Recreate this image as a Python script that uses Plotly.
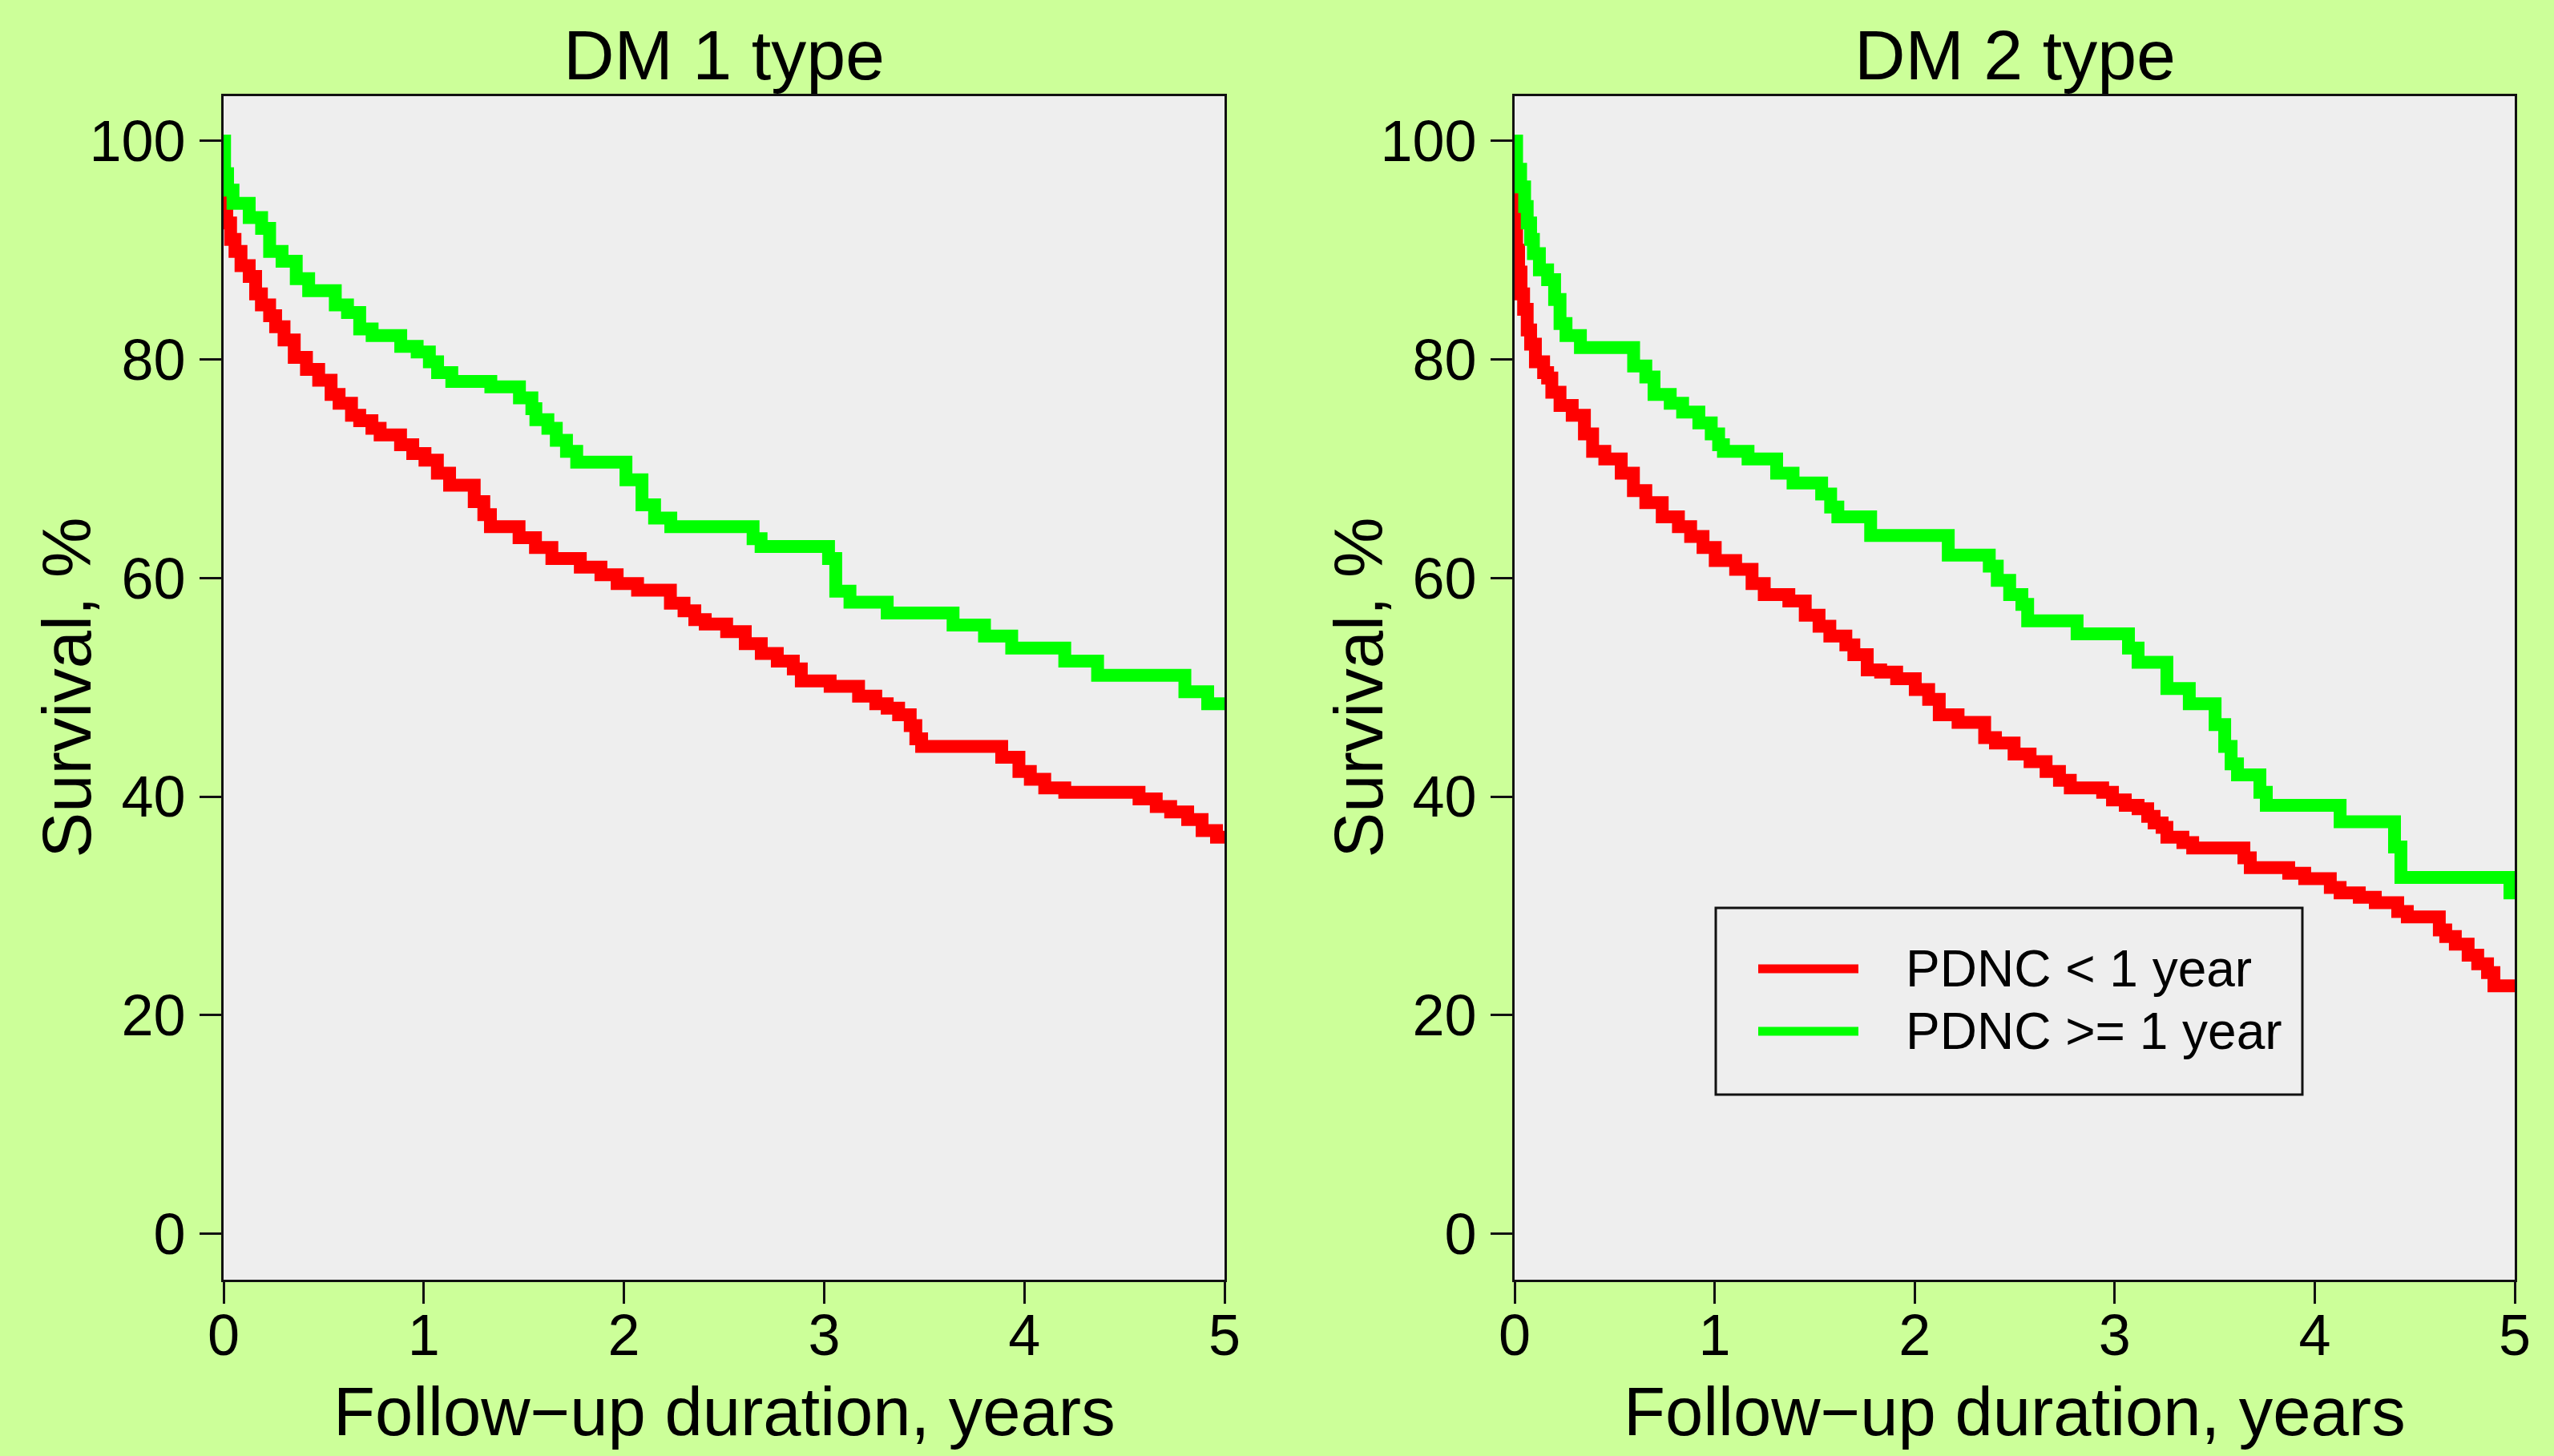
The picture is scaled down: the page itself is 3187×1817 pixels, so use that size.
import plotly.graph_objects as go

# ---------------- data ----------------
panel_titles = ["DM 1 type", "DM 2 type"]
series_names = ["PDNC < 1 year", "PDNC >= 1 year"]
x_ticks = [0, 1, 2, 3, 4, 5]
y_ticks = [0, 20, 40, 60, 80, 100]

# DM 1 type, PDNC < 1 year
dm1_lt_t = [0, 0.003, 0.008, 0.016, 0.035, 0.057, 0.087, 0.128, 0.16, 0.189, 0.23, 0.26,
            0.302, 0.353, 0.414, 0.475, 0.537, 0.577, 0.639, 0.68, 0.741, 0.782, 0.884,
            0.945, 1.006, 1.068, 1.129, 1.252, 1.30, 1.333, 1.476, 1.558, 1.64, 1.782,
            1.885, 1.966, 2.068, 2.232, 2.30, 2.354, 2.406, 2.513, 2.606, 2.686, 2.766,
            2.846, 2.886, 3.03, 3.172, 3.258, 3.315, 3.372, 3.43, 3.458, 3.487, 3.887,
            3.973, 4.03, 4.102, 4.202, 4.573, 4.659, 4.731, 4.816, 4.888, 4.96, 5.0]
dm1_lt_s = [100, 96, 94, 92.5, 91, 89.9, 88.6, 87.6, 86.0, 85.0, 84.0, 83.0,
            81.8, 80.2, 79.1, 78.1, 76.8, 76.0, 74.9, 74.4, 73.7, 73.1, 72.2,
            71.4, 70.8, 69.6, 68.5, 67.0, 65.8, 64.7, 63.7, 62.8, 61.8, 61.0,
            60.3, 59.5, 58.9, 57.7, 57.0, 56.2, 55.8, 55.1, 54.0, 53.1, 52.4,
            51.7, 50.6, 50.1, 49.2, 48.5, 48.1, 47.5, 46.5, 45.3, 44.6, 43.6,
            42.3, 41.6, 40.8, 40.4, 39.8, 39.1, 38.6, 37.9, 36.9, 36.3, 36.3]

# DM 1 type, PDNC >= 1 year
dm1_ge_t = [0, 0.005, 0.02, 0.047, 0.128, 0.19, 0.23, 0.292, 0.363, 0.425, 0.558, 0.619,
            0.68, 0.742, 0.885, 0.967, 1.028, 1.069, 1.14, 1.335, 1.478, 1.54, 1.56, 1.62,
            1.662, 1.713, 1.764, 2.01, 2.09, 2.153, 2.234, 2.645, 2.685, 3.022, 3.058,
            3.129, 3.315, 3.644, 3.801, 3.937, 4.202, 4.366, 4.802, 4.916, 5.0]
dm1_ge_s = [100, 97, 95.5, 94.3, 93.0, 92.0, 89.9, 89.0, 87.4, 86.3, 85.0, 84.3,
            82.8, 82.2, 81.2, 80.7, 79.8, 78.8, 78.0, 77.5, 76.5, 75.5, 74.5, 73.7,
            72.6, 71.6, 70.6, 69.0, 66.7, 65.5, 64.7, 63.6, 62.9, 61.8, 58.8,
            57.8, 56.8, 55.7, 54.7, 53.6, 52.4, 51.1, 49.6, 48.5, 48.5]

# DM 2 type, PDNC < 1 year
dm2_lt_t = [0, 0.003, 0.01, 0.02, 0.032, 0.045, 0.063, 0.08, 0.104, 0.145, 0.165, 0.186,
            0.227, 0.288, 0.349, 0.39, 0.451, 0.533, 0.594, 0.656, 0.738, 0.819, 0.88,
            0.942, 1.003, 1.105, 1.187, 1.248, 1.371, 1.453, 1.522, 1.576, 1.656, 1.696,
            1.763, 1.83, 1.91, 2.003, 2.07, 2.123, 2.217, 2.35, 2.404, 2.497, 2.577,
            2.657, 2.724, 2.778, 2.94, 2.989, 3.053, 3.117, 3.165, 3.197, 3.237, 3.261,
            3.341, 3.39, 3.646, 3.678, 3.87, 3.95, 4.078, 4.127, 4.223, 4.303, 4.415,
            4.463, 4.623, 4.655, 4.703, 4.767, 4.815, 4.864, 4.896, 5.0]
dm2_lt_s = [100, 93.8, 90, 88, 86, 84.6, 82.7, 81.4, 79.8, 78.8, 78.3, 77.0,
            75.8, 74.9, 73.2, 71.6, 70.9, 69.6, 68.0, 66.9, 65.6, 64.7, 63.8,
            62.8, 61.6, 60.8, 59.5, 58.5, 57.9, 56.6, 55.6, 54.7, 53.9, 53.0,
            51.6, 51.4, 50.8, 49.8, 48.9, 47.5, 46.8, 45.4, 44.9, 43.9, 43.2,
            42.3, 41.5, 40.8, 40.4, 39.7, 39.2, 38.9, 38.2, 37.6, 37.2, 36.3,
            35.8, 35.3, 34.4, 33.5, 33.0, 32.5, 31.7, 31.2, 30.8, 30.3, 29.5,
            29.0, 27.8, 27.2, 26.5, 25.5, 24.7, 23.9, 22.7, 22.7]

# DM 2 type, PDNC >= 1 year
dm2_ge_t = [0, 0.01, 0.03, 0.05, 0.063, 0.08, 0.094, 0.124, 0.165, 0.2, 0.227, 0.257,
            0.329, 0.595, 0.656, 0.697, 0.778, 0.84, 0.921, 0.983, 1.02, 1.044, 1.167,
            1.31, 1.392, 1.535, 1.58, 1.616, 1.78, 2.168, 2.373, 2.413, 2.475, 2.536,
            2.565, 2.812, 3.069, 3.117, 3.261, 3.373, 3.502, 3.55, 3.582, 3.614, 3.726,
            3.758, 4.127, 4.399, 4.431, 4.976, 5.0]
dm2_ge_s = [100, 97.4, 95.8, 94, 92.5, 91, 89.7, 88.2, 87.3, 85.5, 83.3, 82.2,
            81.1, 79.4, 78.4, 76.8, 76.0, 75.2, 74.2, 73.2, 72.2, 71.6, 70.9,
            69.6, 68.7, 67.7, 66.5, 65.6, 63.9, 62.1, 61.1, 59.8, 58.5, 57.6,
            56.1, 54.9, 53.6, 52.3, 49.9, 48.5, 46.6, 44.6, 43.0, 42.0, 40.4,
            39.2, 37.7, 35.4, 32.6, 31.2, 31.2]

# ---------------- styling ----------------
W, H = 3187, 1817
FONT = "Liberation Sans, Arial, Helvetica, sans-serif"
BG = "#CCFF99"
PANEL = "#EEEEEE"
RED = "#FF0000"
GREEN = "#00FF00"

def px_x(X):
    return X / W

def px_y(Y):
    return 1 - Y / H

y_dom = [px_y(1597), px_y(120)]
x_dom1 = [px_x(279), px_x(1528)]
x_dom2 = [px_x(1890), px_x(3138)]

fig = go.Figure()

curves = [
    (dm1_lt_t, dm1_lt_s, RED, series_names[0], "x", "y"),
    (dm1_ge_t, dm1_ge_s, GREEN, series_names[1], "x", "y"),
    (dm2_lt_t, dm2_lt_s, RED, series_names[0], "x2", "y2"),
    (dm2_ge_t, dm2_ge_s, GREEN, series_names[1], "x2", "y2"),
]
for t, s, c, name, xa, ya in curves:
    fig.add_trace(go.Scatter(x=t, y=s, mode="lines", line=dict(color=c, width=16, shape="hv"),
                             name=name, xaxis=xa, yaxis=ya, showlegend=False))

axis_common = dict(showgrid=False, zeroline=False, showline=True, mirror=True,
                   automargin=False,
                   linecolor="#111111", linewidth=3, ticks="outside", ticklen=27,
                   tickwidth=3, tickcolor="#111111",
                   tickfont=dict(family=FONT, size=72, color="black"))

fig.update_layout(
    width=W, height=H,
    paper_bgcolor=BG, plot_bgcolor=PANEL,
    margin=dict(l=0, r=0, t=0, b=0, autoexpand=False),
    showlegend=False,
    xaxis=dict(domain=x_dom1, range=[0, 5], tickvals=x_ticks, anchor="y",
               ticklabelstandoff=-22, **axis_common),
    yaxis=dict(domain=y_dom, range=[-4.2, 104.1], tickvals=y_ticks, anchor="x",
               ticklabelstandoff=3, **axis_common),
    xaxis2=dict(domain=x_dom2, range=[0, 5], tickvals=x_ticks, anchor="y2",
                ticklabelstandoff=-22, **axis_common),
    yaxis2=dict(domain=y_dom, range=[-4.2, 104.1], tickvals=y_ticks, anchor="x2",
                ticklabelstandoff=3, **axis_common),
)

ann = []
for title, dom in zip(panel_titles, [x_dom1, x_dom2]):
    cx = (dom[0] + dom[1]) / 2
    ann.append(dict(text=title, x=cx, y=px_y(68), xref="paper", yref="paper",
                    xanchor="center", yanchor="middle", showarrow=False,
                    font=dict(family=FONT, size=88, color="black")))
    ann.append(dict(text="Follow\u2212up duration, years", x=cx, y=px_y(1761),
                    xref="paper", yref="paper", xanchor="center", yanchor="middle",
                    showarrow=False, font=dict(family=FONT, size=85, color="black")))
for x_px in [83, 1695]:
    ann.append(dict(text="Survival, %", x=px_x(x_px), y=(y_dom[0] + y_dom[1]) / 2,
                    xref="paper", yref="paper", xanchor="center", yanchor="middle",
                    textangle=-90, showarrow=False,
                    font=dict(family=FONT, size=85, color="black")))

# legend (drawn in the right panel)
shapes = [dict(type="rect", xref="paper", yref="paper",
               x0=px_x(2141), x1=px_x(2873), y0=px_y(1366), y1=px_y(1133),
               line=dict(color="#111111", width=3), fillcolor=PANEL)]
for name, c, yl in [(series_names[0], RED, 1209), (series_names[1], GREEN, 1287)]:
    shapes.append(dict(type="line", xref="paper", yref="paper",
                       x0=px_x(2194), x1=px_x(2319), y0=px_y(yl), y1=px_y(yl),
                       line=dict(color=c, width=11)))
    ann.append(dict(text=name, x=px_x(2376), y=px_y(yl), xref="paper", yref="paper",
                    xanchor="left", yanchor="middle", showarrow=False,
                    font=dict(family=FONT, size=64, color="black")))

fig.update_layout(annotations=ann, shapes=shapes)
fig.write_html("out.html",
               config={"displayModeBar": False},
               post_script="document.body.style.margin='0';"
                           "document.body.style.background='#CCFF99';")
